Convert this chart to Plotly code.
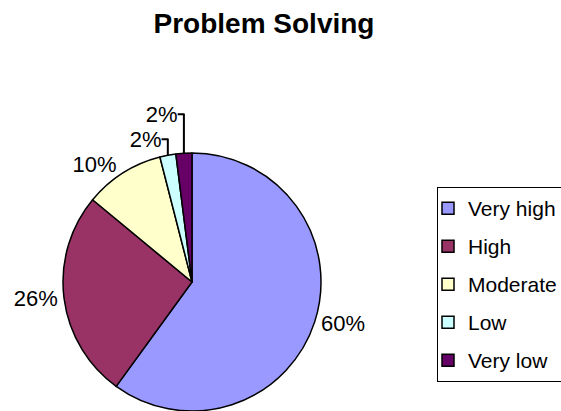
import plotly.graph_objects as go

labels = ["Very high", "High", "Moderate", "Low", "Very low"]
values = [60, 26, 10, 2, 2]
colors = ["#9999FF", "#993366", "#FFFFCC", "#CCFFFF", "#660066"]
title_text = "Problem Solving"

W, H = 561, 411
FONT = "Liberation Sans, Arial, sans-serif"

fig = go.Figure()
fig.add_trace(go.Pie(
    labels=labels,
    values=values,
    sort=False,
    direction="clockwise",
    rotation=0,
    marker=dict(colors=colors, line=dict(color="black", width=1.5)),
    textposition="outside",
    texttemplate="%{percent:.0%}",
    textfont=dict(family=FONT, size=22, color="black"),
    showlegend=False,
    hoverinfo="label+percent",
    domain=dict(x=[63 / W, 321 / W], y=[0, 258 / H]),
))

for lab, col in zip(labels, colors):
    fig.add_trace(go.Scatter(
        x=[None], y=[None], mode="markers", name=lab,
        legendgroup=lab,
        marker=dict(symbol="square", size=12, color=col,
                    line=dict(color="black", width=1.5)),
    ))

fig.update_layout(
    width=W, height=H,
    margin=dict(l=0, r=0, t=0, b=0, autoexpand=False),
    paper_bgcolor="white", plot_bgcolor="white",
    xaxis=dict(visible=False), yaxis=dict(visible=False),
    title=dict(text="<b>" + title_text + "</b>", x=264 / W, xanchor="center",
               y=1 - 23 / H, yanchor="middle", yref="container",
               font=dict(family=FONT, size=28, color="black")),
    legend=dict(x=437 / W, xanchor="left", y=1 - 187 / H, yanchor="top",
                bordercolor="black", borderwidth=1, bgcolor="white",
                font=dict(family=FONT, size=21, color="black"),
                tracegroupgap=7.7, indentation=-10,
                entrywidth=120, entrywidthmode="pixels"),
    font=dict(family=FONT),
)

fig.write_html("out.html")
